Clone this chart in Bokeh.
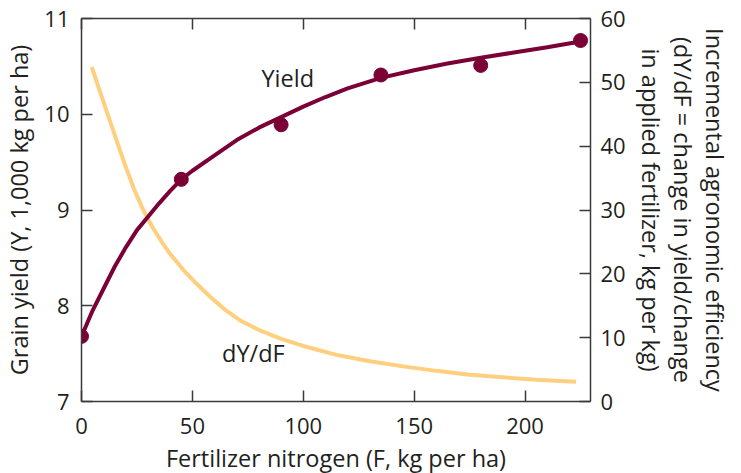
from bokeh.plotting import figure
from bokeh.models import LinearAxis, Range1d, FixedTicker, CustomJSTickFormatter
from bokeh.core.properties import value
from bokeh.embed import file_html
from bokeh.resources import INLINE

# Observed points
n_rate = [0, 45, 90, 135, 180, 225]
yield_obs = [7.68, 9.32, 9.89, 10.41, 10.51, 10.77]

# Fitted yield curve
fit_x = [0, 5, 10, 15, 20, 25, 30, 35, 40, 45, 50, 60, 70, 80, 90, 100, 110, 120, 135, 150, 165, 180, 195, 210, 225]
fit_y = [7.68, 7.95, 8.18, 8.41, 8.61, 8.79, 8.93, 9.07, 9.20, 9.32, 9.41, 9.57, 9.73, 9.86, 9.97, 10.08, 10.18, 10.27, 10.38, 10.46, 10.53, 10.59, 10.645, 10.70, 10.76]

# Incremental efficiency dY/dF (right axis)
eff_x = [4.6, 8, 12, 16, 20, 24, 28, 32, 36, 40, 46, 52, 58, 65, 72, 80, 90, 100, 115, 130, 145, 160, 175, 190, 205, 223]
eff_y = [52.4, 48.9, 44.8, 40.7, 36.7, 33.0, 29.9, 27.3, 25.1, 23.1, 20.6, 18.4, 16.4, 14.3, 12.6, 11.2, 9.8, 8.7, 7.3, 6.3, 5.5, 4.8, 4.2, 3.8, 3.4, 3.1]

x_ticks = [0, 50, 100, 150, 200]
y_ticks = [7, 8, 9, 10, 11]
y2_ticks = [0, 10, 20, 30, 40, 50, 60]

FONT = "Open Sans"
TXT = "#231f20"
AX = "#3a3a3a"
RED = "#7a0036"
YEL = "#ffcf7f"

p = figure(frame_width=509, frame_height=383, output_backend="svg", toolbar_location=None,
           x_range=Range1d(0, 229.5), y_range=Range1d(7, 11),
           min_border_left=81, min_border_right=130, min_border_top=18, min_border_bottom=56)
p.extra_y_ranges = {"eff": Range1d(0, 60)}
p.grid.visible = False
p.outline_line_color = None
p.background_fill_color = "white"
p.border_fill_color = "white"

bottom = p.below[0]
left = p.left[0]
bottom.axis_label = "Fertilizer nitrogen (F, kg per ha)"
left.axis_label = "Grain yield (Y, 1,000 kg per ha)"

right = LinearAxis(y_range_name="eff",
                   axis_label="Incremental agronomic efficiency\n(dY/dF = change in yield/change\nin applied fertilizer, kg per kg)")
p.add_layout(right, "right")
top = LinearAxis()
p.add_layout(top, "above")

for ax in [bottom, left, right, top]:
    ax.axis_line_color = AX
    ax.axis_line_width = 1.5
    ax.major_tick_line_color = AX
    ax.major_tick_line_width = 1.5
    ax.major_tick_in = 11
    ax.major_tick_out = 0
    ax.minor_tick_line_color = None
    ax.major_label_text_font = FONT
    ax.major_label_text_font_size = "22px"
    ax.major_label_text_color = TXT
    ax.axis_label_text_font = FONT
    ax.axis_label_text_font_size = "23.5px"
    ax.axis_label_text_font_style = "normal"
    ax.axis_label_text_color = TXT

bottom.ticker = FixedTicker(ticks=x_ticks)
top.ticker = FixedTicker(ticks=x_ticks)
top.formatter = CustomJSTickFormatter(code="return ''")
top.major_label_standoff = 0
left.ticker = FixedTicker(ticks=y_ticks)
right.ticker = FixedTicker(ticks=y2_ticks)
bottom.major_label_standoff = 16
bottom.axis_label_standoff = 5
left.major_label_standoff = 12
left.axis_label_standoff = 6
right.major_label_standoff = 10
right.axis_label_standoff = 6
right.axis_label_text_line_height = 1.0

p.line(eff_x, eff_y, y_range_name="eff", line_color=YEL, line_width=4)
p.line(fit_x, fit_y, line_color=RED, line_width=4)
p.scatter(n_rate, yield_obs, size=14, fill_color=RED, line_color=RED)

p.text(x=[93], y=[10.38], text=["Yield"], text_font=value(FONT), text_font_size="23.5px",
       text_color=TXT, text_align="center", text_baseline="middle")
p.text(x=[77.5], y=[7.51], text=["dY/dF"], text_font=value(FONT), text_font_size="23.5px",
       text_color=TXT, text_align="center", text_baseline="middle")

open("out.html", "w").write(file_html(p, INLINE))
